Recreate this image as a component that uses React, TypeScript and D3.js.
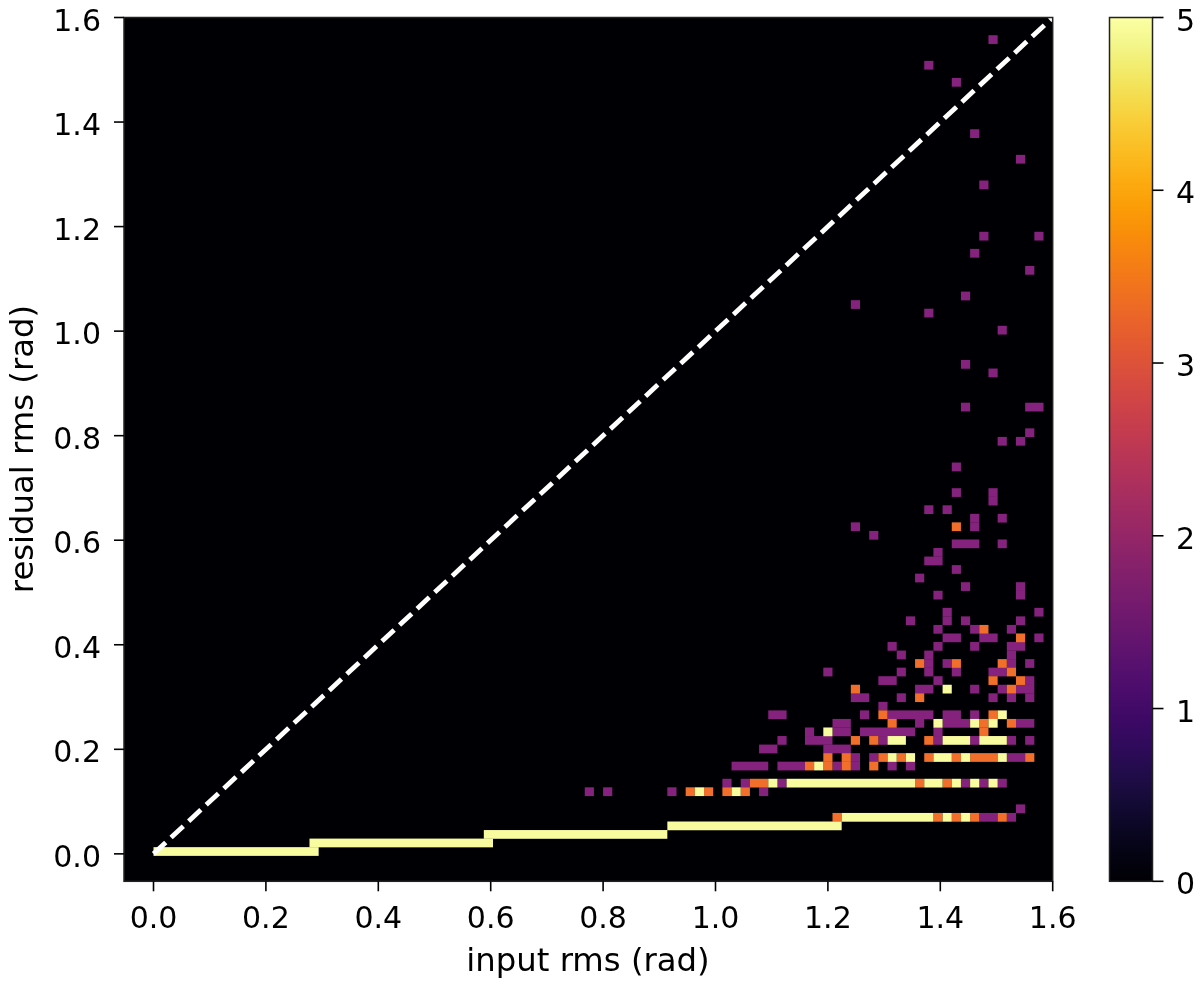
import React from "react";
import * as d3 from "d3";

// Histogram cells: [row, columns in that row]
const purpleCells: [number, number[]][] = [
  [95, [91]], [92, [84]], [90, [87]], [84, [89]], [81, [94]], [78, [90]], [72, [90, 96]], [70, [89]],
  [68, [95]], [65, [88]], [64, [76]], [63, [84]], [61, [92]], [57, [88]], [56, [91]], [52, [88, 95, 96]],
  [49, [95]], [48, [92, 94]], [45, [87]], [42, [87, 91]], [41, [91]], [40, [84, 86]], [39, [89, 92]],
  [38, [76, 89]], [37, [78]], [36, [87, 88, 89, 92]], [35, [85]], [34, [84, 85]], [33, [87]], [32, [83]],
  [31, [88, 94]], [30, [85, 94]], [28, [86, 96]], [27, [82, 86, 88, 94]], [26, [85, 89, 93]],
  [25, [86, 87, 90, 91, 96]], [24, [80, 85, 89, 93, 94]], [23, [81, 84, 93]], [22, [84, 86, 93, 95]],
  [21, [73, 81, 84, 87, 91, 92]], [20, [79, 80, 85, 95]], [19, [83, 84, 89, 92, 94, 95]],
  [18, [76, 77, 81, 91, 93, 95]], [17, [79]], [16, [67, 68, 77, 80, 81, 82, 83, 84, 86, 87, 89]],
  [15, [74, 75, 83, 86, 87, 88, 94, 95]], [14, [71, 74, 75, 77, 78, 79, 80, 81, 82, 85]],
  [13, [68, 71, 72, 73, 79, 85, 89, 93, 95]], [12, [66, 67, 73, 74, 75]], [11, [76, 78, 93, 94]],
  [10, [63, 64, 65, 66, 68, 69, 70, 74, 76, 80, 82]], [8, [62, 64, 68, 88, 90, 92]], [7, [47, 49, 56, 66]],
  [5, [94]], [4, [90, 91, 93]],
];
const orangeCells: [number, number[]][] = [
  [38, [87]], [26, [90]], [25, [94]], [22, [83, 87, 92]], [21, [93]], [20, [91, 94]], [19, [76, 93]],
  [18, [83]], [16, [79, 91]], [15, [80, 90, 93]], [14, [90]], [13, [76, 78, 84]],
  [11, [73, 75, 79, 81, 84, 87, 89, 90, 91, 95]], [10, [71, 73, 75, 78]], [8, [65, 66, 83, 86]],
  [7, [58, 60, 62, 64]], [4, [74, 85, 87, 89, 92]],
];
const paleCells: [number, number[]][] = [
  [19, [86]], [16, [92]], [15, [85, 89, 91]], [14, [73]], [13, [80, 81, 86, 87, 88, 90, 91, 92]],
  [11, [80, 82, 85, 86, 88, 92]], [10, [72]],
  [8, [67, 69, 70, 71, 72, 73, 74, 75, 76, 77, 78, 79, 80, 81, 82, 84, 85, 87, 89, 91]],
  [7, [59, 63]], [4, [75, 76, 77, 78, 79, 80, 81, 82, 83, 84, 86, 88]],
];
// Saturated staircase: [row, first column, last column]
const paleRuns: [number, number, number][] = [
  [3, 56, 74], [2, 36, 55], [1, 17, 36], [0, 0, 17],
];
const cellLevels = [2, 3.5, 5];
const cellColors = ["#85227d", "#f16f2a", "#f8fb9e"];

const xTicks = [0, 0.2, 0.4, 0.6, 0.8, 1.0, 1.2, 1.4, 1.6];
const yTicks = [0, 0.2, 0.4, 0.6, 0.8, 1.0, 1.2, 1.4, 1.6];
const colorTicks = [0, 1, 2, 3, 4, 5];
const xLabel = "input rms (rad)";
const yLabel = "residual rms (rad)";

const FONT = "'DejaVu Sans', sans-serif";
const TICK_FS = 30;
const LABEL_FS = 32.3;
const frame = { l: 124, r: 1052.7, t: 17.5, b: 881.3 };
const bar = { l: 1109.5, r: 1152.5, t: 17.5, b: 881.3 };
const binX = 1.6 / 98;
const binY = 0.01635;
const yBinStart = -0.0035;

export default function App() {
  const x = d3.scaleLinear().domain([-0.0525, 1.6]).range([frame.l, frame.r]);
  const y = d3.scaleLinear().domain([-0.0525, 1.6]).range([frame.b, frame.t]);
  const cVal = d3.scaleLinear().domain([0, 5]).range([bar.b, bar.t]);
  const color = d3.scaleOrdinal<number, string>().domain(cellLevels).range(cellColors);

  // One rect per horizontal run of adjacent cells, so no seams show inside a run.
  const span = (row: number, a: number, b: number, level: number) => {
    const x0 = x(a * binX);
    const x1 = x((b + 1) * binX);
    const y1 = y(yBinStart + row * binY);
    const y0 = y(yBinStart + (row + 1) * binY);
    return (
      <rect
        key={`${level}-${row}-${a}`}
        x={x0}
        y={y0}
        width={x1 - x0}
        height={y1 - y0 + 0.2}
        fill={color(level)}
      />
    );
  };
  const fromRows = (rows: [number, number[]][], level: number) =>
    rows.flatMap(([row, cols]) => {
      const out: React.ReactNode[] = [];
      let start = cols[0];
      cols.forEach((c, i) => {
        if (i === cols.length - 1 || cols[i + 1] !== c + 1) {
          out.push(span(row, start, c, level));
          start = cols[i + 1];
        }
      });
      return out;
    });

  const gradStops = d3.range(0, 1.0001, 1 / 32);

  return (
    <svg
      width={1200}
      height={986}
      viewBox="0 0 1200 986"
      style={{ position: "absolute", left: 0, top: 0, display: "block", background: "#fff", filter: "blur(0.45px)" }}
      fontFamily={FONT}
    >
      <defs>
        <linearGradient id="inferno" x1="0" y1="1" x2="0" y2="0">
          {gradStops.map((t) => (
            <stop key={t} offset={t} stopColor={d3.interpolateInferno(t)} />
          ))}
        </linearGradient>
      </defs>
      <rect x={frame.l} y={frame.t} width={frame.r - frame.l} height={frame.b - frame.t} fill="#000004" />
      {fromRows(purpleCells, 2)}
      {fromRows(orangeCells, 3.5)}
      {fromRows(paleCells, 5)}
      {paleRuns.map(([row, a, b]) => span(row, a, b, 5))}
      <line
        x1={x(0)}
        y1={y(0)}
        x2={x(1.6)}
        y2={y(1.6)}
        stroke="#fff"
        strokeWidth={4.8}
        strokeDasharray="16.7 7.3"
      />
      <rect
        x={frame.l}
        y={frame.t}
        width={frame.r - frame.l}
        height={frame.b - frame.t}
        fill="none"
        stroke="#222"
        strokeWidth={1.5}
      />
      {xTicks.map((t) => (
        <g key={`x${t}`}>
          <line x1={x(t)} x2={x(t)} y1={frame.b} y2={frame.b + 10} stroke="#000" strokeWidth={1.6} />
          <text x={x(t)} y={928} textAnchor="middle" fontSize={TICK_FS} fill="#000">
            {t.toFixed(1)}
          </text>
        </g>
      ))}
      {yTicks.map((t) => (
        <g key={`y${t}`}>
          <line x1={frame.l - 10} x2={frame.l} y1={y(t)} y2={y(t)} stroke="#000" strokeWidth={1.6} />
          <text x={101} y={y(t) + 13} textAnchor="end" fontSize={TICK_FS} fill="#000">
            {t.toFixed(1)}
          </text>
        </g>
      ))}
      <text x={588} y={971} textAnchor="middle" fontSize={LABEL_FS} fill="#000">
        {xLabel}
      </text>
      <text
        transform={`translate(33,449) rotate(-90)`}
        textAnchor="middle"
        fontSize={LABEL_FS}
        fill="#000"
      >
        {yLabel}
      </text>
      <rect
        x={bar.l}
        y={bar.t}
        width={bar.r - bar.l}
        height={bar.b - bar.t}
        fill="url(#inferno)"
        stroke="#222"
        strokeWidth={1.5}
      />
      {colorTicks.map((t) => (
        <g key={`b${t}`}>
          <line x1={bar.r} x2={bar.r + 11} y1={cVal(t)} y2={cVal(t)} stroke="#000" strokeWidth={1.6} />
          <text x={1176} y={cVal(t) + 13} fontSize={TICK_FS} fill="#000">
            {t}
          </text>
        </g>
      ))}
    </svg>
  );
}
